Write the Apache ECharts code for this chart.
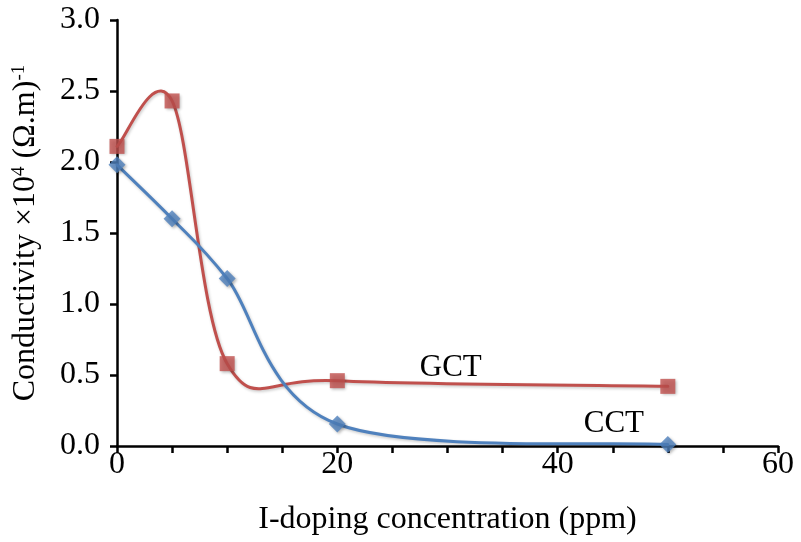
<!DOCTYPE html>
<html>
<head>
<meta charset="utf-8">
<script src="https://cdn.jsdelivr.net/npm/echarts@6/dist/echarts.min.js"></script>
<style>
  html, body { margin: 0; padding: 0; background: #fff; }
  #chart { width: 801px; height: 542px; }
</style>
</head>
<body>
<div id="chart"></div>
<script>
// I-doping concentration (ppm)
var doping = [0, 5, 10, 20, 50];
// Conductivity x10^4 (Ω.m)^-1
var gct = [2.11, 2.43, 0.58, 0.46, 0.42];
var cct = [1.98, 1.60, 1.18, 0.155, 0.01];
var seriesNames = ['GCT', 'CCT'];
// where each series name is written, in data coordinates
var gctLabelAt = [30.3, 0.55];
var cctLabelAt = [45.1, 0.158];

var FONT = '"Liberation Serif", "Times New Roman", serif';
var RED = '#C0504D';
var BLUE = '#4F81BD';

function pairs(xs, ys) {
  return xs.map(function (x, i) { return [x, ys[i]]; });
}

// Smoothed curve through the points: cubic Bezier segments whose control
// points follow the Catmull-Rom tangents (1/6 of neighbour spacing), in pixels.
function smoothCurve(xs, ys, color) {
  return function (params, api) {
    var p = xs.map(function (x, i) { return api.coord([x, ys[i]]); });
    var n = p.length;
    var d = 'M' + p[0][0] + ' ' + p[0][1];
    for (var i = 0; i < n - 1; i++) {
      var p0 = p[Math.max(i - 1, 0)], p1 = p[i], p2 = p[i + 1], p3 = p[Math.min(i + 2, n - 1)];
      var c1x = p1[0] + (p2[0] - p0[0]) / 6, c1y = p1[1] + (p2[1] - p0[1]) / 6;
      var c2x = p2[0] - (p3[0] - p1[0]) / 6, c2y = p2[1] - (p3[1] - p1[1]) / 6;
      d += ' C' + c1x + ' ' + c1y + ' ' + c2x + ' ' + c2y + ' ' + p2[0] + ' ' + p2[1];
    }
    return {
      type: 'path',
      shape: { pathData: d },
      style: {
        fill: 'none', stroke: color, lineWidth: 3, lineCap: 'round', lineJoin: 'round',
        shadowBlur: 3, shadowOffsetX: 1, shadowOffsetY: 1.5, shadowColor: 'rgba(0,0,0,0.22)'
      }
    };
  };
}

var markerShadow = {
  shadowBlur: 3,
  shadowOffsetX: 1.5,
  shadowOffsetY: 1.5,
  shadowColor: 'rgba(0,0,0,0.35)'
};

function nameMark(text, at) {
  return {
    symbol: 'rect',
    symbolSize: 0,
    silent: true,
    label: {
      show: true,
      position: 'inside',
      formatter: text,
      color: '#000',
      fontFamily: FONT,
      fontSize: 31
    },
    data: [{ coord: at }]
  };
}

var axisText = { fontFamily: FONT, fontSize: 32, color: '#000' };

var chart = echarts.init(document.getElementById('chart'), null, { renderer: 'canvas' });
chart.setOption({
  animation: false,
  backgroundColor: '#fff',
  grid: { left: 117, right: 23, top: 20, bottom: 96, containLabel: false, outerBoundsMode: 'none' },
  xAxis: {
    type: 'value',
    min: 0, max: 60, interval: 20,
    name: 'I-doping concentration (ppm)',
    nameLocation: 'middle',
    nameGap: 58,
    nameTextStyle: axisText,
    axisLine: { onZero: false, lineStyle: { color: '#000', width: 2.5 } },
    axisTick: { show: true, length: 7, lineStyle: { color: '#000', width: 2.5 } },
    minorTick: { show: true, splitNumber: 4, length: 7, lineStyle: { color: '#000', width: 2.5 } },
    axisLabel: Object.assign({ margin: 3 }, axisText),
    splitLine: { show: false }
  },
  yAxis: {
    type: 'value',
    min: 0, max: 3, interval: 0.5,
    name: 'Conductivity ×10{sup|4} (Ω.m){sup|-1}',
    nameLocation: 'middle',
    nameGap: 75,
    nameRotate: 90,
    nameTextStyle: Object.assign({
      rich: {
        sup: { fontFamily: FONT, fontSize: 19, color: '#000', verticalAlign: 'top' }
      }
    }, axisText),
    axisLine: { lineStyle: { color: '#000', width: 2.5 } },
    axisTick: { show: true, length: 7, lineStyle: { color: '#000', width: 2.5 } },
    axisLabel: Object.assign({
      margin: 17,
      formatter: function (v) { return v.toFixed(1); }
    }, axisText),
    splitLine: { show: false }
  },
  series: [
    {
      name: seriesNames[0] + ' curve',
      type: 'custom',
      data: [0],
      renderItem: smoothCurve(doping, gct, RED),
      silent: true,
      z: 1
    },
    {
      name: seriesNames[0],
      type: 'scatter',
      data: pairs(doping, gct),
      symbol: 'rect',
      symbolSize: 15,
      itemStyle: Object.assign({ color: RED }, markerShadow),
      markPoint: nameMark(seriesNames[0], gctLabelAt),
      z: 2
    },
    {
      name: seriesNames[1] + ' curve',
      type: 'custom',
      data: [0],
      renderItem: smoothCurve(doping, cct, BLUE),
      silent: true,
      z: 3
    },
    {
      name: seriesNames[1],
      type: 'scatter',
      data: pairs(doping, cct),
      symbol: 'diamond',
      symbolSize: 17,
      itemStyle: Object.assign({ color: BLUE }, markerShadow),
      markPoint: nameMark(seriesNames[1], cctLabelAt),
      z: 4
    }
  ]
});
</script>
</body>
</html>
